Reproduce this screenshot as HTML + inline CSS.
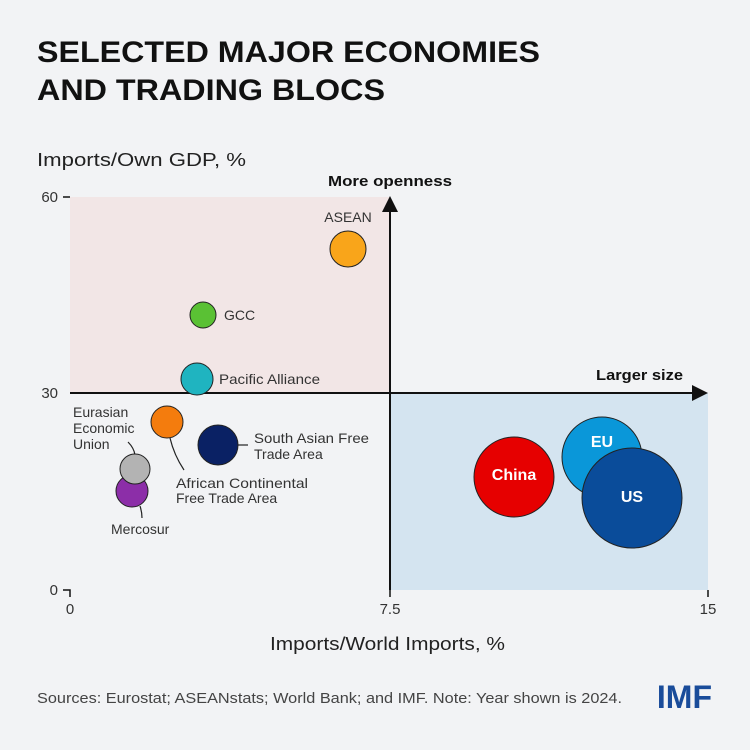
<!DOCTYPE html>
<html><head><style>
body{margin:0;background:#f2f3f5;}
svg{display:block;font-family:"Liberation Sans",sans-serif;}
</style></head><body>
<svg width="750" height="750" viewBox="0 0 750 750">
<rect width="750" height="750" fill="#f2f3f5"/>
<text x="37" y="62" font-size="30" font-weight="bold" fill="#111" textLength="503" lengthAdjust="spacingAndGlyphs">SELECTED MAJOR ECONOMIES</text>
<text x="37" y="100" font-size="30" font-weight="bold" fill="#111" textLength="348" lengthAdjust="spacingAndGlyphs">AND TRADING BLOCS</text>
<text x="37" y="166" font-size="18" fill="#222" textLength="209" lengthAdjust="spacingAndGlyphs">Imports/Own GDP, %</text>
<rect x="70" y="197" width="320" height="196" fill="#f2e6e6"/>
<rect x="390" y="393" width="318" height="197" fill="#d4e4f0"/>
<line x1="70" y1="393" x2="695" y2="393" stroke="#111" stroke-width="2"/>
<polygon points="708,393 692,385 692,401" fill="#111"/>
<line x1="390" y1="590" x2="390" y2="210" stroke="#111" stroke-width="2"/>
<polygon points="390,196 382,212 398,212" fill="#111"/>
<text x="390" y="186" font-size="15" font-weight="bold" text-anchor="middle" fill="#111" textLength="124" lengthAdjust="spacingAndGlyphs">More openness</text>
<text x="683" y="380" font-size="15" font-weight="bold" text-anchor="end" fill="#111" textLength="87" lengthAdjust="spacingAndGlyphs">Larger size</text>
<g stroke="#111" stroke-width="1.5" fill="none">
<path d="M63,197 H70"/><path d="M63,590 H70 V597"/><path d="M390,590 V597"/><path d="M708,590 V597"/>
</g>
<g font-size="15" fill="#333" text-anchor="end">
<text x="58" y="202">60</text><text x="58" y="398">30</text><text x="58" y="595">0</text>
</g>
<g font-size="15" fill="#333" text-anchor="middle">
<text x="70" y="614">0</text><text x="390" y="614">7.5</text><text x="708" y="614">15</text>
</g>
<text x="270" y="650" font-size="18" fill="#222" textLength="235" lengthAdjust="spacingAndGlyphs">Imports/World Imports, %</text>
<g stroke="#222" stroke-width="1.2" fill="none">
<path d="M128,442 Q134,448 135,455"/><path d="M140,506 Q142,512 142,518"/><path d="M170,438 Q174,455 184,470"/><path d="M238,445 H248"/>
</g>
<g stroke="#222" stroke-width="1">
<circle cx="348" cy="249" r="18" fill="#f9a51a"/>
<circle cx="203" cy="315" r="13" fill="#5ac134"/>
<circle cx="197" cy="379" r="16" fill="#1fb4c0"/>
<circle cx="167" cy="422" r="16" fill="#f47c0d"/>
<circle cx="218" cy="445" r="20" fill="#0a2164"/>
<circle cx="132" cy="491" r="16" fill="#8c2ea8"/>
<circle cx="135" cy="469" r="15" fill="#b3b3b3"/>
<circle cx="514" cy="477" r="40" fill="#e60000"/>
<circle cx="602" cy="457" r="40" fill="#0a97d9"/>
<circle cx="632" cy="498" r="50" fill="#0a4c9a"/>
</g>
<g font-size="14" fill="#333">
<text x="348" y="222" text-anchor="middle">ASEAN</text>
<text x="224" y="320">GCC</text>
<text x="219" y="384" textLength="101" lengthAdjust="spacingAndGlyphs">Pacific Alliance</text>
<text x="73" y="417">Eurasian</text><text x="73" y="433">Economic</text><text x="73" y="449">Union</text>
<text x="254" y="443" textLength="115" lengthAdjust="spacingAndGlyphs">South Asian Free</text><text x="254" y="459">Trade Area</text>
<text x="176" y="488" textLength="132" lengthAdjust="spacingAndGlyphs">African Continental</text><text x="176" y="503">Free Trade Area</text>
<text x="111" y="534">Mercosur</text>
</g>
<g font-size="16" font-weight="bold" fill="#fff" text-anchor="middle">
<text x="514" y="480">China</text><text x="602" y="447">EU</text><text x="632" y="502">US</text>
</g>
<text x="37" y="703" font-size="14.5" fill="#444" textLength="585" lengthAdjust="spacingAndGlyphs">Sources: Eurostat; ASEANstats; World Bank; and IMF. Note: Year shown is 2024.</text>
<text x="712" y="708" font-size="32" font-weight="bold" fill="#1a4c9a" text-anchor="end">IMF</text>
</svg>
</body></html>
